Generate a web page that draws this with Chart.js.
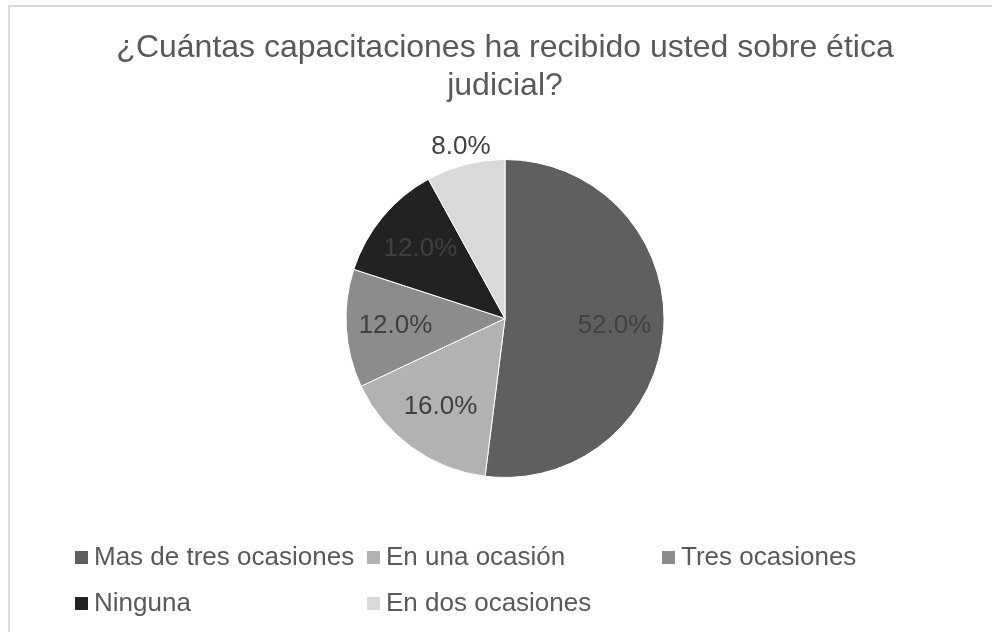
<!DOCTYPE html>
<html>
<head>
<meta charset="utf-8">
<script src="https://cdn.jsdelivr.net/npm/chart.js@4"></script>
<style>
    html, body { margin: 0; padding: 0; background: #fff; overflow: hidden; }
    body { width: 992px; height: 632px; position: relative; font-family: "Liberation Sans", Arial, sans-serif; }
    #frame { position: absolute; left: 8px; top: 5px; width: 1000px; height: 700px; border: 2px solid #d9d9d9; box-sizing: border-box; }
    #wrap { position: absolute; left: 9px; top: 0; width: 992px; height: 632px; }
    #legend { position: absolute; left: 75px; top: 541px; width: 900px; }
    .item { position: absolute; height: 30px; color: #595959; font-size: 26px; line-height: 30px; white-space: nowrap; }
    .item span.box { display: inline-block; width: 13px; height: 13px; margin-right: 6px; vertical-align: 1px; }
</style>
</head>
<body>
<div id="frame"></div>
<div id="wrap"><canvas id="pieChart"></canvas></div>
<div id="legend"></div>
<script>
const titleLines = ['¿Cuántas capacitaciones ha recibido usted sobre ética', 'judicial?'];
const categories = ['Mas de tres ocasiones', 'En una ocasión', 'Tres ocasiones', 'Ninguna', 'En dos ocasiones'];
const percents = [52, 16, 12, 12, 8];
const sliceColors = ['#5f5f5f', '#b2b2b2', '#8c8c8c', '#222222', '#d9d9d9'];

// labels drawn on the slices, outside when the slice is small
const sliceLabels = {
    id: 'sliceLabels',
    afterDatasetsDraw(chart) {
        const ctx = chart.ctx;
        const meta = chart.getDatasetMeta(0);
        ctx.save();
        ctx.font = '26px "Liberation Sans", Arial, sans-serif';
        ctx.fillStyle = '#404040';
        ctx.textAlign = 'center';
        ctx.textBaseline = 'middle';
        meta.data.forEach((arc, i) => {
            const p = arc.getProps(['x', 'y', 'startAngle', 'endAngle', 'outerRadius'], true);
            const mid = (p.startAngle + p.endAngle) / 2;
            const r = percents[i] < 10 ? p.outerRadius + 18 : p.outerRadius * 0.69;
            ctx.fillText(percents[i].toFixed(1) + '%', p.x + Math.cos(mid) * r, p.y + Math.sin(mid) * r);
        });
        ctx.restore();
    }
};

const ctx = document.getElementById('pieChart').getContext('2d');
new Chart(ctx, {
    type: 'pie',
    data: {
        labels: categories,
        datasets: [{
            data: percents,
            backgroundColor: sliceColors,
            borderColor: '#ffffff',
            borderWidth: 1
        }]
    },
    options: {
        responsive: true,
        maintainAspectRatio: false,
        animation: false,
        layout: {
            padding: { top: 0, bottom: 154, left: 0, right: 0 }
        },
        plugins: {
            legend: { display: false },
            tooltip: { enabled: false },
            title: {
                display: true,
                text: titleLines,
                color: '#595959',
                font: { family: '"Liberation Sans", Arial, sans-serif', size: 32, weight: 'normal', lineHeight: 38 / 32 },
                padding: { top: 29, bottom: 54 }
            }
        }
    },
    plugins: [sliceLabels]
});

// legend laid out in three columns like the original
const legend = document.getElementById('legend');
const colLeft = [0, 292, 587];
const rowTop = [0, 46];
categories.forEach((name, i) => {
    const item = document.createElement('div');
    item.className = 'item';
    item.style.left = colLeft[i % 3] + 'px';
    item.style.top = rowTop[Math.floor(i / 3)] + 'px';
    item.innerHTML = '<span class="box" style="background:' + sliceColors[i] + '"></span>' + name;
    legend.appendChild(item);
});
</script>
</body>
</html>
